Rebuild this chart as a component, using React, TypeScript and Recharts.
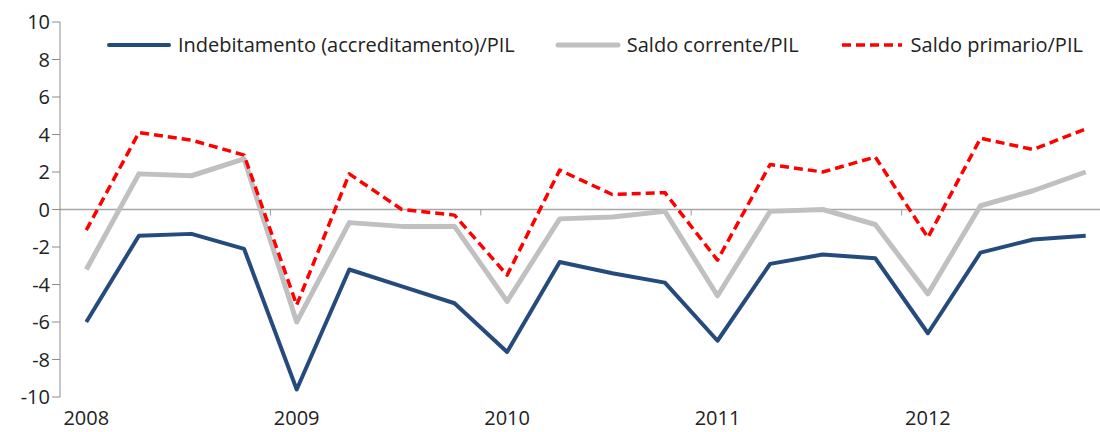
import { LineChart, Line, XAxis, YAxis, ReferenceLine, Legend } from "recharts";

const quarters = [
  "2008 T1", "2008 T2", "2008 T3", "2008 T4",
  "2009 T1", "2009 T2", "2009 T3", "2009 T4",
  "2010 T1", "2010 T2", "2010 T3", "2010 T4",
  "2011 T1", "2011 T2", "2011 T3", "2011 T4",
  "2012 T1", "2012 T2", "2012 T3", "2012 T4",
];

const indebitamento = [
  -6.0, -1.4, -1.3, -2.1,
  -9.6, -3.2, -4.1, -5.0,
  -7.6, -2.8, -3.4, -3.9,
  -7.0, -2.9, -2.4, -2.6,
  -6.6, -2.3, -1.6, -1.4,
];

const saldoCorrente = [
  -3.2, 1.9, 1.8, 2.7,
  -6.0, -0.7, -0.9, -0.9,
  -4.9, -0.5, -0.4, -0.1,
  -4.6, -0.1, 0.0, -0.8,
  -4.5, 0.2, 1.0, 2.0,
];

const saldoPrimario = [
  -1.1, 4.1, 3.7, 2.9,
  -5.1, 1.9, 0.0, -0.3,
  -3.5, 2.1, 0.8, 0.9,
  -2.7, 2.4, 2.0, 2.8,
  -1.5, 3.8, 3.2, 4.3,
];

const yTicks = [-10, -8, -6, -4, -2, 0, 2, 4, 6, 8, 10];

const series = [
  { key: "indebitamento", name: "Indebitamento (accreditamento)/PIL", color: "#254a7c", width: 4, dash: undefined },
  { key: "saldoCorrente", name: "Saldo corrente/PIL", color: "#c0c0c0", width: 5, dash: undefined },
  { key: "saldoPrimario", name: "Saldo primario/PIL", color: "#ff0000", width: 3.5, dash: "9 5" },
];

const data = quarters.map((q, i) => ({
  q,
  indebitamento: indebitamento[i],
  saldoCorrente: saldoCorrente[i],
  saldoPrimario: saldoPrimario[i],
}));

const FONT = "'Open Sans', sans-serif";
const years = quarters.length / 4;

// zero line with small year separators hanging below it
const ZeroLine = (props: any) => {
  const { x1, y1, x2, y2 } = props;
  const step = (x2 - x1) / years;
  const marks = [];
  for (let k = 1; k < years; k++) {
    const x = x1 + step * k;
    marks.push(<line key={k} x1={x} y1={y1} x2={x} y2={y1 + 6} stroke="#9a9a9a" strokeWidth={1} />);
  }
  return (
    <g>
      <line x1={x1} y1={y1} x2={x2} y2={y2} stroke="#a6a6a6" strokeWidth={1.5} />
      {marks}
    </g>
  );
};

const renderLegend = () => (
  <div style={{ display: "flex", alignItems: "center", gap: 40, fontFamily: FONT, fontSize: 20, color: "#222", whiteSpace: "nowrap" }}>
    {series.map((s) => (
      <div key={s.key} style={{ display: "flex", alignItems: "center" }}>
        <svg width={66} height={10} style={{ marginRight: 6 }}>
          <line x1={3} y1={5} x2={63} y2={5} stroke={s.color} strokeWidth={s.width}
            strokeDasharray={s.dash} strokeLinecap={s.dash ? "butt" : "round"} />
        </svg>
        <span>{s.name}</span>
      </div>
    ))}
  </div>
);

export default function App() {
  return (
    <div style={{ position: "absolute", left: 0, top: 0, width: 1100, height: 432, overflow: "hidden", background: "#fff" }}>
      <LineChart width={1120} height={432} data={data} margin={{ top: 22, right: 8, left: 0, bottom: 5 }}>
        <XAxis
          dataKey="q"
          scale="band"
          interval={3}
          tickFormatter={(q: string) => q.slice(0, 4)}
          axisLine={false}
          tickLine={false}
          tickSize={0}
          tickMargin={14}
          height={30}
          tick={{ fontSize: 20, fill: "#222", fontFamily: FONT }}
        />
        <YAxis
          domain={[-10, 10]}
          ticks={yTicks}
          width={60}
          axisLine={{ stroke: "#8c8c8c" }}
          tickLine={{ stroke: "#8c8c8c" }}
          tickSize={8}
          tickMargin={2}
          tick={{ fontSize: 20, fill: "#222", fontFamily: FONT }}
        />
        <ReferenceLine y={0} shape={ZeroLine} />
        <Legend verticalAlign="middle" align="center" content={renderLegend} wrapperStyle={{ top: 31, left: 106, width: "auto" }} />
        {series.map((s) => (
          <Line
            key={s.key}
            type="linear"
            dataKey={s.key}
            name={s.name}
            stroke={s.color}
            strokeWidth={s.width}
            strokeDasharray={s.dash}
            strokeLinejoin="round"
            dot={false}
            isAnimationActive={false}
          />
        ))}
      </LineChart>
    </div>
  );
}
